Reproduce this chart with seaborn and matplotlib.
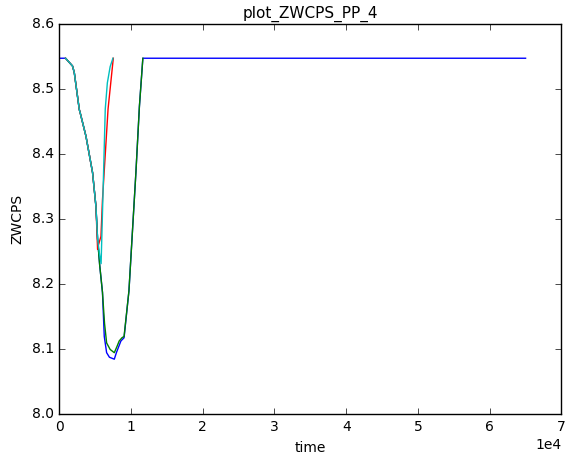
import pandas as pd
import matplotlib
matplotlib.use("Agg")
import matplotlib.pyplot as plt
import seaborn as sns

# shared descent part (all four runs overlap here)
t_common = [875, 1845, 2090, 2790, 2865, 2960, 3720, 4640, 5110]
v_common = [8.548, 8.536, 8.526, 8.469, 8.466, 8.462, 8.428, 8.372, 8.32]

t_blue = [0] + t_common + [5340, 5630, 6020, 6270, 6600, 6990, 7670, 7960, 8590, 9030, 9710, 10680, 11170, 11650, 65000]
v_blue = [8.548] + v_common + [8.27, 8.23, 8.188, 8.12, 8.095, 8.088, 8.085, 8.095, 8.113, 8.118, 8.19, 8.372, 8.474, 8.548, 8.548]

t_green = t_common + [5340, 5630, 6020, 6310, 6600, 7090, 7670, 8060, 8350, 8740, 9030, 9710, 10680, 11170, 11650]
v_green = v_common + [8.27, 8.23, 8.188, 8.14, 8.11, 8.1, 8.095, 8.105, 8.113, 8.118, 8.12, 8.19, 8.372, 8.474, 8.548]

t_red = t_common + [5340, 5440, 5810, 6020, 6800, 7530]
v_red = v_common + [8.254, 8.26, 8.274, 8.33, 8.47, 8.548]

t_cyan = t_common + [5340, 5630, 5830, 6120, 6410, 6700, 7090, 7480]
v_cyan = v_common + [8.27, 8.245, 8.232, 8.35, 8.47, 8.51, 8.535, 8.548]

series = {"blue": (t_blue, v_blue), "green": (t_green, v_green),
          "red": (t_red, v_red), "cyan": (t_cyan, v_cyan)}
frames = [pd.DataFrame({"time": t, "ZWCPS": v, "run": k}) for k, (t, v) in series.items()]
df = pd.concat(frames, ignore_index=True)

plt.style.use("classic")
plt.rcParams["font.size"] = 10

fig = plt.figure(figsize=(5.7, 4.61), dpi=100, facecolor="white")
ax = fig.add_axes([0.104, 0.101, 0.881, 0.846])
sns.lineplot(data=df, x="time", y="ZWCPS", hue="run", sort=False, estimator=None,
             hue_order=["blue", "green", "red", "cyan"],
             palette={"blue": "b", "green": "g", "red": "r", "cyan": "c"},
             legend=False, ax=ax, linewidth=1.0)

ax.set_xlim(0, 70000)
ax.set_ylim(8.0, 8.6)
ax.set_title("plot_ZWCPS_PP_4", fontsize=11)
ax.set_xlabel("time")
ax.set_ylabel("ZWCPS")
ax.ticklabel_format(axis="x", style="sci", scilimits=(0, 0))

fig.savefig("out.png", dpi=100, facecolor="white")
